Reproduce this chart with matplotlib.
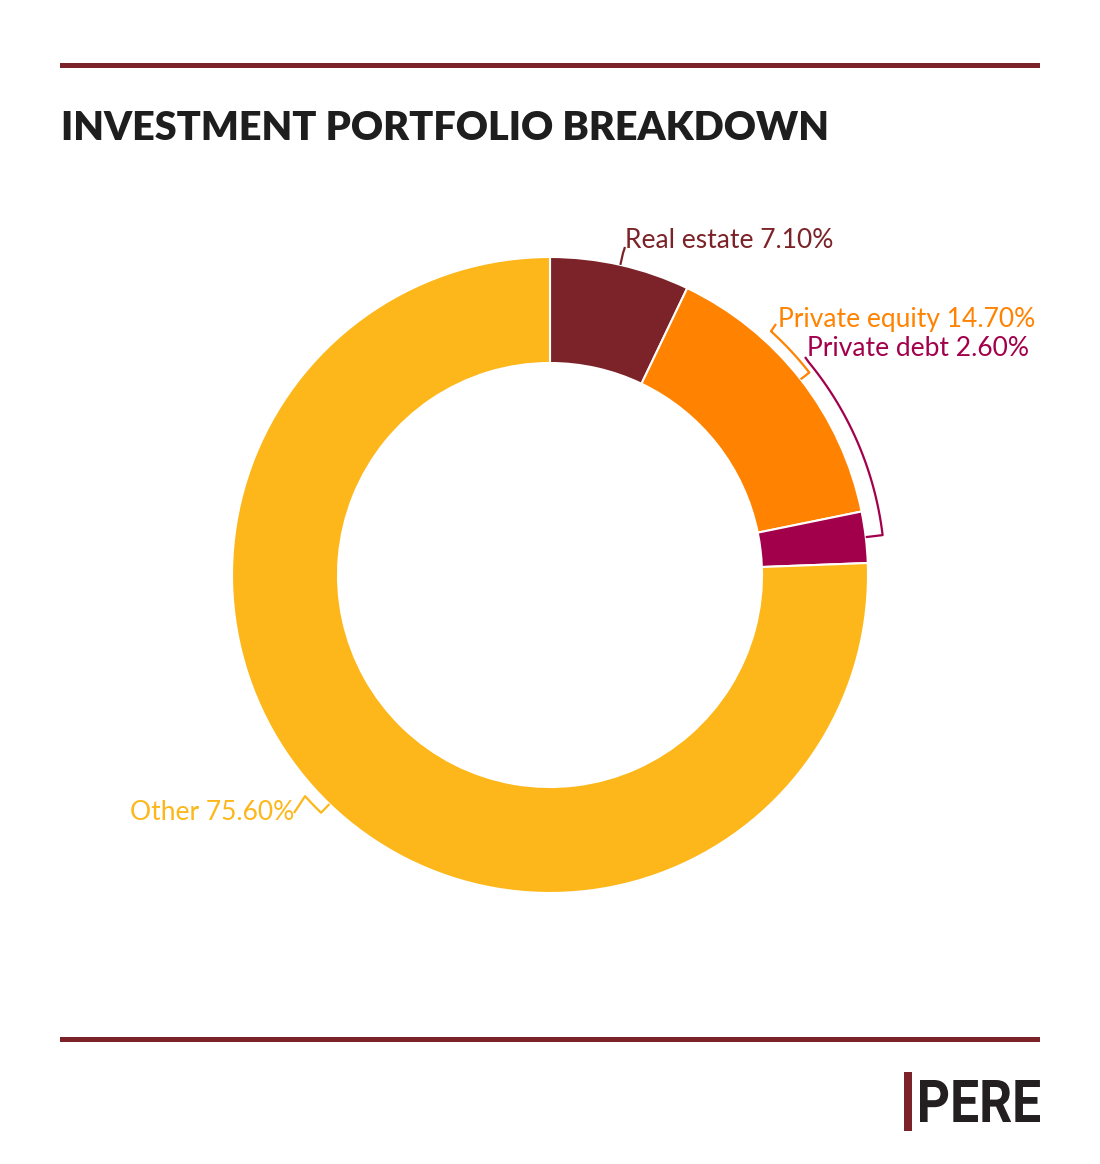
import numpy as np
import matplotlib
matplotlib.use("Agg")
from matplotlib import pyplot as plt
from matplotlib.textpath import TextPath
from matplotlib.patches import PathPatch, Rectangle
from matplotlib.font_manager import FontProperties
from matplotlib.transforms import Affine2D

# Data
categories = ["Real estate", "Private equity", "Private debt", "Other"]
shares = [7.10, 14.70, 2.60, 75.60]
colors = ["#7b2328", "#ff8200", "#a3004c", "#fdb71a"]
title = "INVESTMENT PORTFOLIO BREAKDOWN"

W, H = 1100, 1164
fig = plt.figure(figsize=(W / 100, H / 100), dpi=100)
ax = fig.add_axes([0, 0, 1, 1])


def Y(y):
    # pixel row (from top) to data y
    return H - y


cx, cy = 550, Y(575)
R_OUT, R_IN = 318, 212

wedges, _ = ax.pie(
    shares,
    colors=colors,
    startangle=90,
    counterclock=False,
    center=(cx, cy),
    radius=R_OUT,
    wedgeprops=dict(width=R_OUT - R_IN, edgecolor="white", linewidth=1.5),
)
ax.set_xlim(0, W)
ax.set_ylim(0, H)
ax.set_aspect("auto")
ax.axis("off")


def polar(r, deg):
    a = np.deg2rad(deg)
    return cx + r * np.cos(a), cy + r * np.sin(a)


# connectors: arc radius, arc end angle, leader end, text position
label_font = dict(family="Lato", fontsize=19)
conn = {
    "Real estate": (330, None, (625, 247), (625, 240)),
    "Private equity": (329, 47.8, (776, 324), (778, 320)),
    "Private debt": (335, 39.4, (805, 357), (807, 349)),
    "Other": (330, -4.0, (294, 813), (294, 813)),
}

for w, name, val, col in zip(wedges, categories, shares, colors):
    mid = (w.theta1 + w.theta2) / 2
    rc, end_ang, anchor, txt = conn[name]
    pts = [polar(R_OUT, mid), polar(rc, mid)]
    if end_ang is not None:
        if name == "Other":
            end_ang = mid + end_ang
        angs = np.linspace(mid, end_ang, 40)
        pts += [polar(rc, a) for a in angs]
    pts.append((anchor[0], Y(anchor[1])))
    xs, ys = zip(*pts)
    ax.plot(xs, ys, color=col, lw=1.6, solid_capstyle="butt")
    ha = "right" if name == "Other" else "left"
    ax.text(txt[0], Y(txt[1]), f"{name} {val:.2f}%", color=col, ha=ha,
            va="center", **label_font)

# rules
rule_col = "#7b2328"
ax.add_patch(Rectangle((60, Y(67.5)), 980, 5, color=rule_col, lw=0))
ax.add_patch(Rectangle((60, Y(1041.5)), 980, 5, color=rule_col, lw=0))

# title
ax.text(61, Y(128), title, family="Lato", fontweight="heavy", fontsize=28.5,
        color="#1e1e1e", va="center", ha="left")

# logo
ax.add_patch(Rectangle((904, Y(1131)), 8, 59, color=rule_col, lw=0))
tp = TextPath((0, 0), "PERE", size=100, prop=FontProperties(family="Roboto", weight="bold"))
bb = tp.get_extents()
sx = (1040 - 920) / bb.width
sy = (1122 - 1080) / bb.height
tr = Affine2D().translate(-bb.x0, -bb.y0).scale(sx, sy).translate(920, Y(1122))
ax.add_patch(PathPatch(tr.transform_path(tp), color="#231f20", lw=0))

fig.savefig("out.png", dpi=100)
